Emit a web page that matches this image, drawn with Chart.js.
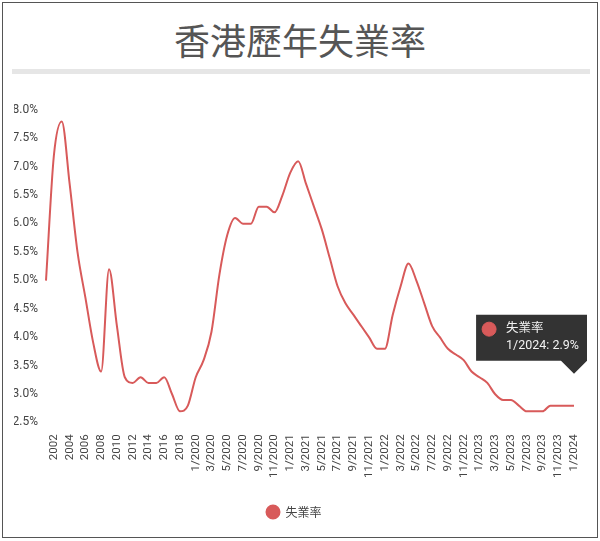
<!DOCTYPE html>
<html lang="zh-Hant">
<head>
  <meta charset="UTF-8" />
  <title>香港歷年失業率</title>
  <style>
    body { margin: 0; width: 600px; height: 541px; overflow: hidden; background: #fff; position: relative; }
    .frame { position: absolute; left: 2px; top: 2px; width: 596px; height: 536px; box-sizing: border-box; border: 1px solid #555; }
    .title {
      position: absolute; left: 0; top: 16px; width: 600px;
      text-align: center; font: 400 36px/46px "Noto Sans CJK TC", sans-serif; color: #555;
    }
    .bar { position: absolute; left: 12px; top: 69px; width: 578px; height: 5px; background: #e6e6e6; }
    canvas { position: absolute; left: 0; top: 0; }
  </style>
</head>
<body>

<div class="frame"></div>
<div class="title">香港歷年失業率</div>
<div class="bar"></div>
<canvas id="rateChart" width="600" height="541"></canvas>

<script src="https://cdn.jsdelivr.net/npm/chart.js@4.4.3"></script>
<script>
  // årlige tall 2001-2019, deretter månedlige (3-mnd) fra 1/2020
  const yearLabels = ['2001','2002','2003','2004','2005','2006','2007','2008','2009','2010',
    '2011','2012','2013','2014','2015','2016','2017','2018','2019'];
  const yearRates = [5.1, 7.3, 7.9, 6.8, 5.6, 4.8, 4.0, 3.5, 5.3, 4.3,
    3.4, 3.3, 3.4, 3.3, 3.3, 3.4, 3.1, 2.8, 2.9];

  const monthLabels = [
    '1/2020','2/2020','3/2020','4/2020','5/2020','6/2020','7/2020','8/2020','9/2020','10/2020','11/2020','12/2020',
    '1/2021','2/2021','3/2021','4/2021','5/2021','6/2021','7/2021','8/2021','9/2021','10/2021','11/2021','12/2021',
    '1/2022','2/2022','3/2022','4/2022','5/2022','6/2022','7/2022','8/2022','9/2022','10/2022','11/2022','12/2022',
    '1/2023','2/2023','3/2023','4/2023','5/2023','6/2023','7/2023','8/2023','9/2023','10/2023','11/2023','12/2023',
    '1/2024'];
  const monthRates = [
    3.4, 3.7, 4.2, 5.2, 5.9, 6.2, 6.1, 6.1, 6.4, 6.4, 6.3, 6.6,
    7.0, 7.2, 6.8, 6.4, 6.0, 5.5, 5.0, 4.7, 4.5, 4.3, 4.1, 3.9,
    3.9, 4.5, 5.0, 5.4, 5.1, 4.7, 4.3, 4.1, 3.9, 3.8, 3.7, 3.5,
    3.4, 3.3, 3.1, 3.0, 3.0, 2.9, 2.8, 2.8, 2.8, 2.9, 2.9, 2.9,
    2.9];

  const seriesName = '失業率';
  const yTicks = [2.5, 3.0, 3.5, 4.0, 4.5, 5.0, 5.5, 6.0, 6.5, 7.0, 7.5, 8.0];

  const labels = yearLabels.concat(monthLabels);
  const rates = yearRates.concat(monthRates);
  const RED = '#d85a5a';

  const chart = new Chart(document.getElementById('rateChart').getContext('2d'), {
    type: 'line',
    data: {
      labels: labels,
      datasets: [{
        label: seriesName,
        data: rates,
        borderColor: RED,
        backgroundColor: RED,
        borderWidth: 2,
        pointRadius: 0,
        pointHoverRadius: 0,
        cubicInterpolationMode: 'monotone',
        fill: false
      }]
    },
    options: {
      responsive: false,
      animation: false,
      layout: { padding: { left: 14, right: 26, top: 115.7, bottom: 13 } },
      scales: {
        x: {
          grid: { display: false, drawTicks: false },
          border: { display: false },
          ticks: {
            autoSkip: false, minRotation: 90, maxRotation: 90, padding: 6,
            color: '#444', font: { family: 'Roboto', size: 11.5 },
            callback: function (v, i) { return i % 2 ? this.getLabelForValue(v) : ''; }
          },
          afterFit: s => { s.height = 67.6; }
        },
        y: {
          min: yTicks[0], max: yTicks[yTicks.length - 1],
          grid: { display: false, drawTicks: false },
          border: { display: false },
          afterBuildTicks: s => { s.ticks = yTicks.map(v => ({ value: v })); },
          ticks: {
            padding: 8, labelOffset: -6,
            color: '#444', font: { family: 'Roboto', size: 12 },
            callback: v => v.toFixed(1) + '%'
          },
          afterFit: s => { s.width = 32; }
        }
      },
      plugins: {
        legend: {
          position: 'bottom',
          labels: {
            usePointStyle: true, pointStyle: 'circle', boxHeight: 9.2, pointStyleWidth: 13,
            padding: 10, color: '#444', font: { family: '"Noto Sans CJK TC"', size: 12 }
          }
        },
        tooltip: {
          xAlign: 'right', yAlign: 'bottom',
          backgroundColor: '#333', cornerRadius: 0,
          caretSize: 13, caretPadding: 32,
          padding: { left: 6, right: 8, top: 7, bottom: 7 },
          displayColors: true, usePointStyle: true,
          boxWidth: 14, boxHeight: 14, boxPadding: 8,
          multiKeyBackground: '#333',
          bodyColor: '#f2f2f2', bodySpacing: 2,
          bodyFont: { family: 'Roboto, "Noto Sans CJK TC", sans-serif', size: 12.5 },
          callbacks: {
            title: () => [],
            label: c => [seriesName, c.label + ': ' + c.parsed.y.toFixed(1) + '%'],
            labelColor: () => ({ borderColor: RED, backgroundColor: RED }),
            labelPointStyle: () => ({ pointStyle: 'circle', rotation: 0 })
          }
        }
      }
    }
  });

  // vis tooltip for siste punkt
  chart.tooltip.setActiveElements([{ datasetIndex: 0, index: labels.length - 1 }], { x: 0, y: 0 });
  chart.update();
</script>
</body>
</html>
